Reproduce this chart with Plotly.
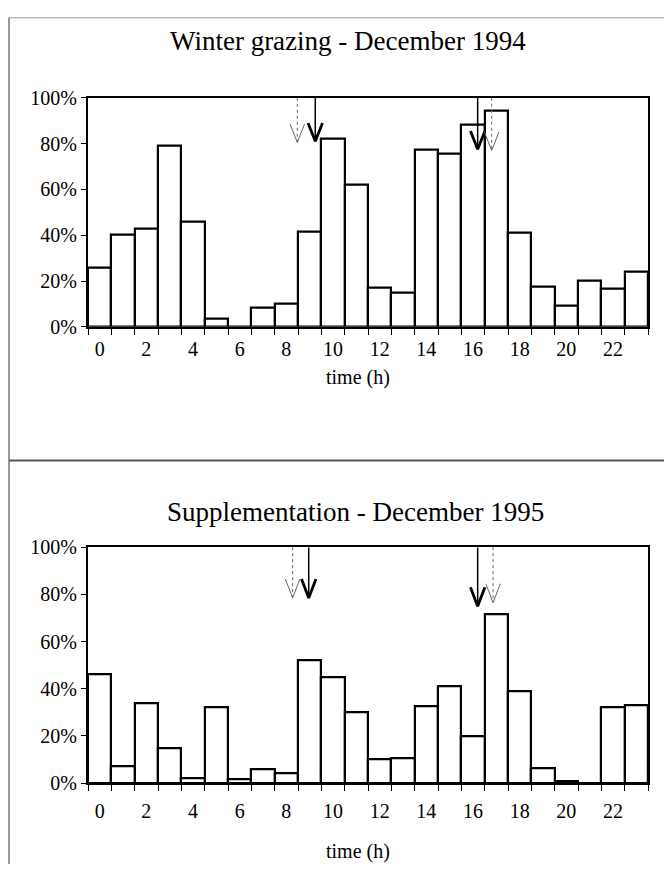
import plotly.graph_objects as go

hours = list(range(24))
winter_1994 = [26, 40, 43, 79, 46, 3.5, 0, 8.5, 10, 41.5, 82, 62, 17, 15,
               77.5, 75.5, 88, 94.5, 41, 17.5, 9, 20, 16.5, 24]
suppl_1995 = [46, 7, 34, 15, 2, 32, 1.5, 6, 4, 52, 45, 30, 10, 10.5,
              32.5, 41, 20, 71.5, 39, 6.5, 1, 0, 32, 33]
x_tick_vals = list(range(0, 24, 2))
x_tick_text = [str(v) for v in x_tick_vals]
y_tick_vals = [0, 0.2, 0.4, 0.6, 0.8, 1.0]
y_tick_text = ["0%", "20%", "40%", "60%", "80%", "100%"]
titles = ["Winter grazing - December 1994", "Supplementation - December 1995"]

# arrows: (x position in hours, tip level as fraction, style)
arrows_1994 = [(8.47, 0.805, "dash"), (9.24, 0.81, "solid"),
               (16.2, 0.775, "solid"), (16.8, 0.77, "dash")]
arrows_1995 = [(8.27, 0.785, "dash"), (8.96, 0.785, "solid"),
               (16.2, 0.75, "solid"), (16.86, 0.765, "dash")]

W, H = 664, 875
FONT = "Liberation Serif"

# panel geometry in pixels
panels = [
    dict(top=89, bottom=324, title_y=31, title_x=348, xlab_y=376, standoff=3),
    dict(top=550, bottom=792, title_y=514, title_x=355, xlab_y=862, standoff=9),
]
x_left, x_right = 88, 648

fig = go.Figure()
datasets = [winter_1994, suppl_1995]
arrowsets = [arrows_1994, arrows_1995]

for i, (vals, arr, p) in enumerate(zip(datasets, arrowsets, panels)):
    ax = "" if i == 0 else str(i + 1)
    xa, ya = "x" + ax, "y" + ax
    fig.add_trace(go.Bar(
        x=hours, y=[v / 100 for v in vals], width=1.0,
        marker=dict(color="white", line=dict(color="black", width=2.2)),
        xaxis=xa, yaxis=ya, showlegend=False, hoverinfo="skip"))
    for (xp, tip, style) in arr:
        if style == "solid":
            col, lw, dash, hw = "black", 1.5, "solid", 2.8
        else:
            col, lw, dash, hw = "#666666", 1.0, "dot", 1.0
        fig.add_trace(go.Scatter(
            x=[xp, xp], y=[1.0, tip], mode="lines",
            line=dict(color=col, width=lw, dash=dash),
            xaxis=xa, yaxis=ya, showlegend=False, hoverinfo="skip"))
        fig.add_trace(go.Scatter(
            x=[xp - 0.31, xp, xp + 0.31], y=[tip + 0.08, tip, tip + 0.08],
            mode="lines", line=dict(color=col, width=hw),
            xaxis=xa, yaxis=ya, showlegend=False, hoverinfo="skip"))

    dom_y = [1 - p["bottom"] / H, 1 - p["top"] / H]
    dom_x = [x_left / W, x_right / W]
    xkey = "xaxis" + ax
    ykey = "yaxis" + ax
    fig.layout[xkey] = dict(
        domain=dom_x, range=[-0.5, 23.5], anchor=ya,
        tickvals=x_tick_vals, ticktext=x_tick_text, ticks="",
        ticklabelstandoff=p["standoff"],
        minor=dict(tick0=-0.5, dtick=1, ticks="outside", ticklen=6,
                   tickcolor="black", tickwidth=1),
        showline=True, linecolor="black", linewidth=2, mirror=True,
        showgrid=False, zeroline=False,
        tickfont=dict(family=FONT, size=20, color="black"))
    fig.layout[ykey] = dict(
        domain=dom_y, range=[0, 1.0], anchor=xa,
        tickvals=y_tick_vals, ticktext=y_tick_text,
        ticks="outside", ticklen=5, tickcolor="black",
        showline=True, linecolor="black", linewidth=2, mirror=True,
        showgrid=False, zeroline=False,
        tickfont=dict(family=FONT, size=20, color="black"))
    fig.add_annotation(text=titles[i], xref="paper", yref="paper",
                       x=p["title_x"] / W, y=1 - p["title_y"] / H,
                       showarrow=False, xanchor="center", yanchor="middle",
                       font=dict(family=FONT, size=27, color="black"))
    fig.add_annotation(text="time (h)", xref="paper", yref="paper",
                       x=358 / W, y=1 - p["xlab_y"] / H, showarrow=False,
                       xanchor="center", yanchor="middle",
                       font=dict(family=FONT, size=20, color="black"))

# panel frames
frame = dict(color="#333333", width=1)
fig.add_shape(type="line", xref="paper", yref="paper",
              x0=9 / W, x1=1, y0=1 - 7 / H, y1=1 - 7 / H,
              line=dict(color="#999999", width=1))
fig.add_shape(type="line", xref="paper", yref="paper",
              x0=9 / W, x1=9 / W, y0=0, y1=1 - 7 / H, line=frame)
fig.add_shape(type="line", xref="paper", yref="paper",
              x0=9 / W, x1=1, y0=1 - 461 / H, y1=1 - 461 / H,
              line=dict(color="#555555", width=2))

fig.update_layout(
    width=W, height=H, margin=dict(l=0, r=0, t=0, b=0),
    paper_bgcolor="white", plot_bgcolor="white", bargap=0,
)
fig.write_html("out.html")
